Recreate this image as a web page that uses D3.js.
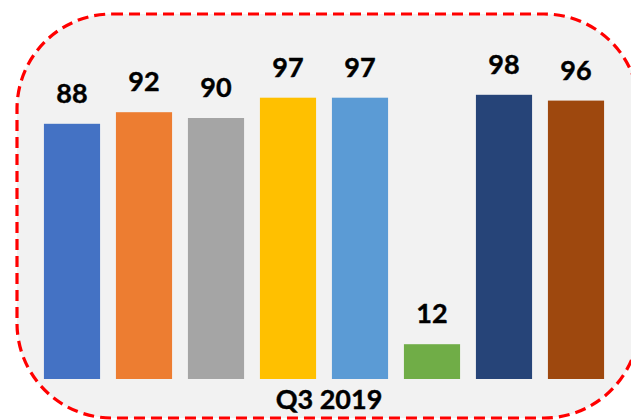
<!DOCTYPE html>
<html>
<head>
<meta charset="utf-8">
<script src="https://cdn.jsdelivr.net/npm/d3@7"></script>
<style>
  body { margin: 0; background: #fff; }
  svg { display: block; font-family: Lato, "Open Sans", sans-serif; }
</style>
</head>
<body>
<div class="canvas"></div>
<script>
// data
const categories = ['Q3 2019'];
const series = ['S1', 'S2', 'S3', 'S4', 'S5', 'S6', 'S7', 'S8'];
const values = [88, 92, 90, 97, 97, 12, 98, 96];
const colors = ['#4472C4', '#ED7D31', '#A5A5A5', '#FFC000', '#5B9BD5', '#70AD47', '#264478', '#9E480E'];

const width = 631, height = 420;
const svg = d3.select('.canvas')
  .append('svg')
    .attr('width', width)
    .attr('height', height);

// rounded dashed frame (runs off the right edge)
svg.append('rect')
  .attr('x', 17)
  .attr('y', 14)
  .attr('width', 622)
  .attr('height', 404)
  .attr('rx', 95)
  .attr('ry', 95)
  .attr('fill', '#f2f2f2')
  .attr('stroke', '#ff0000')
  .attr('stroke-width', 3.2)
  .attr('stroke-dasharray', '11,6');

// scales
const x0 = d3.scaleBand()
  .domain(categories)
  .range([36, 612]);
const x1 = d3.scaleBand()
  .domain(series)
  .range([0, x0.bandwidth()])
  .paddingInner(0.22)
  .paddingOuter(0.11);
const y = d3.scaleLinear()
  .domain([0, 100])
  .range([379, 89]);

const data = series.map((s, i) => ({ name: s, value: values[i], fill: colors[i] }));

const groups = svg.selectAll('g.cat')
  .data(categories)
  .enter().append('g')
    .attr('class', 'cat')
    .attr('transform', d => `translate(${x0(d)},0)`);

groups.selectAll('rect')
  .data(data)
  .enter().append('rect')
    .attr('x', d => x1(d.name))
    .attr('y', d => y(d.value))
    .attr('width', x1.bandwidth())
    .attr('height', d => y(0) - y(d.value))
    .attr('fill', d => d.fill);

groups.selectAll('text.lbl')
  .data(data)
  .enter().append('text')
    .attr('class', 'lbl')
    .attr('x', d => x1(d.name) + x1.bandwidth() / 2)
    .attr('y', d => y(d.value) - 21)
    .attr('text-anchor', 'middle')
    .attr('font-size', 27)
    .attr('font-weight', 'bold')
    .attr('fill', '#000')
    .attr('stroke', '#000')
    .attr('stroke-width', 0.4)
    .text(d => d.value);

// category axis
const xAxis = d3.axisBottom(x0).tickSize(0).tickPadding(0);
const xAxisGroup = svg.append('g')
  .attr('transform', `translate(5, ${y(0)})`)
  .call(xAxis);
xAxisGroup.select('.domain').remove();
xAxisGroup.selectAll('text')
  .attr('font-family', 'Lato, "Open Sans", sans-serif')
  .attr('font-size', 27)
  .attr('font-weight', 'bold')
  .attr('fill', '#000')
  .attr('stroke', '#000')
  .attr('stroke-width', 0.4)
  .attr('dy', null)
  .attr('y', 30);
</script>
</body>
</html>
